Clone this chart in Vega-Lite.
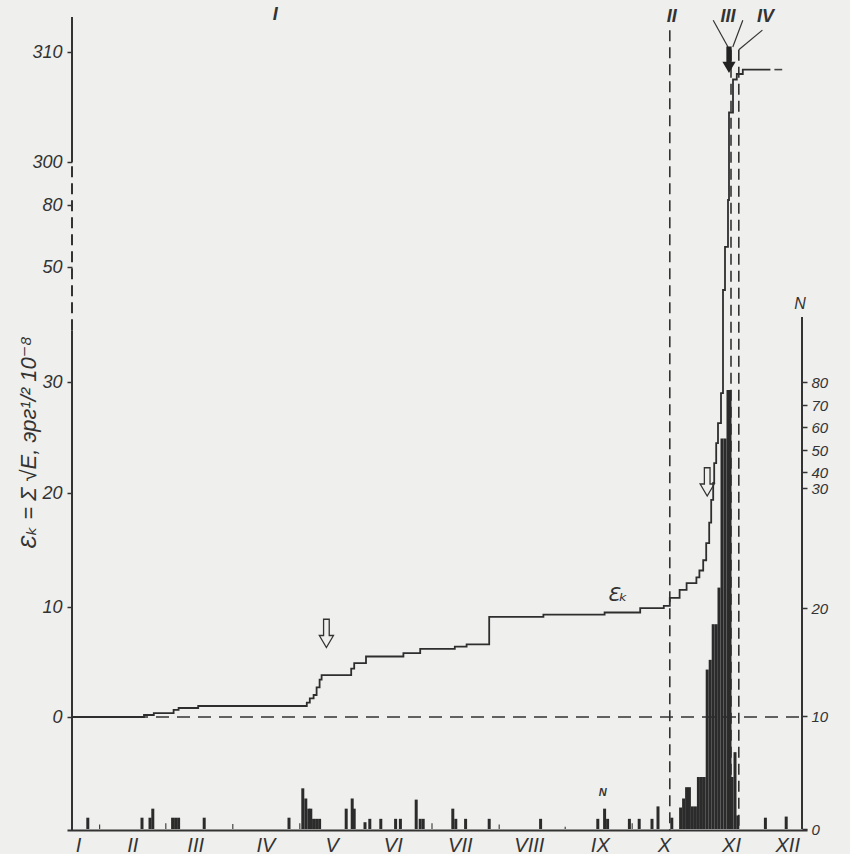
{
 "$schema": "https://vega.github.io/schema/vega-lite/v6.json",
 "width": 740, "height": 813,
 "autosize": {"type": "none"},
 "padding": {"left": 67, "top": 17, "right": 43, "bottom": 24},
 "background": "#efefed",
 "config": {"view": {"stroke": null}, "font": "Liberation Sans Narrow, Liberation Sans, DejaVu Sans, sans-serif"},
 "resolve": {"scale": {"y": "independent"}},
 "layer": [
  {
   "encoding": {
    "x": {"field": "day", "type": "quantitative", "scale": {"domain": [0, 365], "nice": false, "zero": false},
     "axis": {"title": null, "values": [3, 30.1, 61.6, 96.7, 129.8, 160.4, 193.9, 228.4, 263.9, 296, 329.5, 357.6],
      "labelExpr": "['I','II','III','IV','V','VI','VII','VIII','IX','X','XI','XII'][indexof([3, 30.1, 61.6, 96.7, 129.8, 160.4, 193.9, 228.4, 263.9, 296, 329.5, 357.6], datum.value)]",
      "ticks": false, "grid": false, "domainColor": "#333", "domainWidth": 2, "labelFontSize": 20, "labelFontStyle": "italic", "labelPadding": 5, "labelColor": "#333", "labelFlush": false, "labelOverlap": false}},
    "y": {"field": "E", "type": "quantitative",
     "scale": {"domain": [-10.3, 0, 10, 20, 30, 50, 80, 300, 310, 313.2], "range": [813, 700, 590, 476, 365, 250, 188, 145, 35, 0], "nice": false, "zero": false},
     "axis": {"title": "Ɛₖ = Σ √E, эрг¹/² 10⁻⁸", "values": [0, 10, 20, 30, 50, 80, 300, 310], "format": "d", "domain": false, "grid": false,
      "tickSize": -5, "tickWidth": 1.5, "tickColor": "#333", "labelPadding": 10, "labelFontSize": 18, "labelFontStyle": "italic", "labelColor": "#333",
      "labelOverlap": false, "labelFlush": false,
      "titleX": -39, "titleY": 425, "titleAngle": -90, "titleAlign": "center", "titleBaseline": "middle",
      "titleFontSize": 22, "titleFontStyle": "italic", "titleFontWeight": "normal", "titleColor": "#333"}}
   },
   "layer": [
    {"data": {"values": [{"day": 0, "day2": 365, "E": 0}]},
     "mark": {"type": "rule", "strokeDash": [13, 8], "strokeWidth": 1.6, "color": "#333"},
     "encoding": {"x2": {"field": "day2"}}},
    {"data": {"values": [{"lab": "II", "day": 298.9, "E": 312, "e2": -10.3}, {"lab": "III", "day": 329.5, "E": 310.2, "e2": -10.3}, {"lab": "IV", "day": 333.4, "E": 310.2, "e2": -10.3}]},
     "mark": {"type": "rule", "strokeDash": [11, 6], "strokeWidth": 1.6, "color": "#333"},
     "encoding": {"y2": {"field": "e2"}}},
    {"data": {"values": [{"day": 0, "E": -10.3, "e2": 39}, {"day": 0, "E": 300, "e2": 313.2}]},
     "mark": {"type": "rule", "strokeWidth": 2, "color": "#333"},
     "encoding": {"y2": {"field": "e2"}}},
    {"data": {"values": [{"day": 0, "E": 39, "e2": 300}]},
     "mark": {"type": "rule", "strokeDash": [11, 6], "strokeWidth": 2, "color": "#333"},
     "encoding": {"y2": {"field": "e2"}}},
    {"data": {"values": [{"day": 320.6, "day2": 328.0, "E": 312.9, "e2": 310.45}, {"day": 335.4, "day2": 330.4, "E": 312.9, "e2": 310.45}, {"day": 345.2, "day2": 333.4, "E": 312.0, "e2": 310.2}]},
     "mark": {"type": "rule", "strokeWidth": 1.2, "color": "#333"},
     "encoding": {"x2": {"field": "day2"}, "y2": {"field": "e2"}}},
    {"data": {"values": [
      {"day": 0, "E": 0}, {"day": 36.0, "E": 0.18}, {"day": 40.9, "E": 0.36}, {"day": 50.8, "E": 0.64}, {"day": 53.3, "E": 0.82},
      {"day": 63.1, "E": 1.0}, {"day": 117.4, "E": 1.3}, {"day": 118.9, "E": 1.7}, {"day": 120.8, "E": 2.0}, {"day": 122.3, "E": 2.7},
      {"day": 123.8, "E": 3.4}, {"day": 124.8, "E": 3.8}, {"day": 139.6, "E": 4.4}, {"day": 141.1, "E": 4.9}, {"day": 147.0, "E": 5.5},
      {"day": 165.7, "E": 5.8}, {"day": 174.1, "E": 6.2}, {"day": 191.4, "E": 6.4}, {"day": 197.3, "E": 6.6}, {"day": 208.6, "E": 9.1},
      {"day": 235.7, "E": 9.3}, {"day": 266.3, "E": 9.5}, {"day": 284.1, "E": 9.9}, {"day": 295.9, "E": 10.1}, {"day": 298.9, "E": 10.8},
      {"day": 303.8, "E": 11.5}, {"day": 307.3, "E": 12.1}, {"day": 312.2, "E": 12.6}, {"day": 313.7, "E": 13.2}, {"day": 315.6, "E": 14.1},
      {"day": 317.1, "E": 15.6}, {"day": 318.6, "E": 17.4}, {"day": 319.6, "E": 19.4}, {"day": 320.6, "E": 20.9}, {"day": 321.1, "E": 22.7},
      {"day": 322.1, "E": 24.5}, {"day": 323.0, "E": 26.3}, {"day": 324.5, "E": 29.0}, {"day": 325.5, "E": 46}, {"day": 326.5, "E": 59.7},
      {"day": 328.0, "E": 105.6}, {"day": 328.5, "E": 304.5}, {"day": 330.5, "E": 307.5}, {"day": 332.4, "E": 308.0}, {"day": 335.4, "E": 308.4},
      {"day": 349.2, "E": 308.4}]},
     "mark": {"type": "line", "interpolate": "step-after", "strokeWidth": 1.8, "color": "#2e2e2e"},
     "encoding": {}},
    {"data": {"values": [{"day": 351.2, "day2": 355.1, "E": 308.4}]},
     "mark": {"type": "rule", "strokeWidth": 1.6, "color": "#444"},
     "encoding": {"x2": {"field": "day2"}}},
    {"data": {"values": [{"day": 127.2, "E": 7.6}, {"day": 317.6, "E": 21.0}]},
     "mark": {"type": "point", "shape": "M-0.2,-1L0.2,-1L0.2,0.15L0.5,0.15L0,1L-0.5,0.15L-0.2,0.15Z", "size": 800, "filled": false, "stroke": "#333", "strokeWidth": 1.3, "opacity": 1}},
    {"data": {"values": [{"day": 328.5, "E": 309.3}]},
     "mark": {"type": "point", "shape": "M-0.2,-1L0.2,-1L0.2,0.15L0.5,0.15L0,1L-0.5,0.15L-0.2,0.15Z", "size": 700, "filled": true, "fill": "#222", "opacity": 1}},
    {"data": {"values": [{"day": 101.6, "E": 313.4, "t": "I"}, {"day": 299.9, "E": 313.2, "t": "II"}, {"day": 328.0, "E": 313.2, "t": "III"}, {"day": 346.7, "E": 313.2, "t": "IV"}]},
     "mark": {"type": "text", "fontSize": 18, "fontStyle": "italic", "fontWeight": "bold", "color": "#333", "align": "center", "baseline": "middle"},
     "encoding": {"text": {"field": "t"}}},
    {"data": {"values": [{"day": 272.7, "E": 11.05, "t": "Ɛₖ"}]},
     "mark": {"type": "text", "fontSize": 20, "fontStyle": "italic", "color": "#333", "align": "center", "baseline": "middle", "font": "DejaVu Sans"},
     "encoding": {"text": {"field": "t"}}}
   ]
  },
  {
   "encoding": {
    "x": {"field": "day", "type": "quantitative", "scale": {"domain": [0, 365], "nice": false, "zero": false},
     "axis": {"title": null, "values": [3, 30.1, 61.6, 96.7, 129.8, 160.4, 193.9, 228.4, 263.9, 296, 329.5, 357.6],
      "labelExpr": "['I','II','III','IV','V','VI','VII','VIII','IX','X','XI','XII'][indexof([3, 30.1, 61.6, 96.7, 129.8, 160.4, 193.9, 228.4, 263.9, 296, 329.5, 357.6], datum.value)]",
      "ticks": false, "grid": false, "domainColor": "#333", "domainWidth": 2, "labelFontSize": 20, "labelFontStyle": "italic", "labelPadding": 5, "labelColor": "#333", "labelFlush": false, "labelOverlap": false}},
    "y": {"field": "N", "type": "quantitative",
     "scale": {"domain": [0, 10, 20, 30, 40, 50, 60, 70, 80, 108], "range": [812, 699, 591, 471, 455, 433, 410, 388, 365, 300], "nice": false, "zero": false},
     "axis": {"orient": "right", "title": null, "values": [0, 10, 20, 30, 40, 50, 60, 70, 80], "format": "d", "domain": false, "grid": false,
      "tickSize": -5, "tickWidth": 1.5, "tickColor": "#333", "labelPadding": 9, "labelFontSize": 15, "labelFontStyle": "italic", "labelColor": "#333",
      "labelOverlap": false, "labelFlush": false}}
   },
   "layer": [
    {"data": {"values": [
      {"day": 7.9, "N": 1.0}, {"day": 35.0, "N": 1.0}, {"day": 39.0, "N": 1.0}, {"day": 40.4, "N": 1.8}, {"day": 50.3, "N": 1.0},
      {"day": 51.8, "N": 1.0}, {"day": 53.3, "N": 1.0}, {"day": 66.1, "N": 1.0}, {"day": 108.5, "N": 1.0}, {"day": 115.4, "N": 3.6},
      {"day": 116.9, "N": 2.7}, {"day": 118.4, "N": 1.8}, {"day": 119.4, "N": 1.8}, {"day": 120.8, "N": 0.9}, {"day": 122.3, "N": 0.9},
      {"day": 123.8, "N": 0.9}, {"day": 137.1, "N": 1.8}, {"day": 140.1, "N": 2.7}, {"day": 141.1, "N": 1.8}, {"day": 146.5, "N": 0.6},
      {"day": 148.9, "N": 0.9}, {"day": 154.4, "N": 0.9}, {"day": 161.8, "N": 0.9}, {"day": 164.2, "N": 0.9}, {"day": 172.1, "N": 2.6},
      {"day": 174.1, "N": 0.9}, {"day": 175.6, "N": 0.9}, {"day": 190.4, "N": 1.8}, {"day": 191.9, "N": 0.9}, {"day": 196.8, "N": 0.9},
      {"day": 208.6, "N": 0.9}, {"day": 234.3, "N": 0.9}, {"day": 262.9, "N": 0.9}, {"day": 266.3, "N": 1.8}, {"day": 267.8, "N": 0.9},
      {"day": 278.7, "N": 0.9}, {"day": 283.6, "N": 0.9}, {"day": 290.0, "N": 0.9}, {"day": 293.0, "N": 2.0}, {"day": 299.9, "N": 1.0},
      {"day": 304.3, "N": 1.9}, {"day": 305.8, "N": 2.7}, {"day": 307.3, "N": 3.7}, {"day": 308.7, "N": 3.7}, {"day": 310.2, "N": 2.0},
      {"day": 311.7, "N": 2.0}, {"day": 313.2, "N": 4.6}, {"day": 314.7, "N": 4.6}, {"day": 316.1, "N": 4.6}, {"day": 317.6, "N": 14.3},
      {"day": 319.1, "N": 15.2}, {"day": 320.6, "N": 18.5}, {"day": 322.1, "N": 18.5}, {"day": 323.5, "N": 21.7}, {"day": 325.0, "N": 55},
      {"day": 326.5, "N": 55}, {"day": 328.0, "N": 76.5}, {"day": 329.0, "N": 76.5}, {"day": 330.0, "N": 4.6}, {"day": 331.5, "N": 6.8},
      {"day": 332.9, "N": 1.2}, {"day": 346.7, "N": 1.0}, {"day": 357.1, "N": 1.1}]},
     "mark": {"type": "bar", "width": 3, "color": "#2b2b2b"},
     "encoding": {"y2": {"datum": 0}}},
    {"data": {"values": [
      {"day": 13.8, "N": 0.4}, {"day": 46.9, "N": 0.5}, {"day": 80.4, "N": 0.45}, {"day": 113.9, "N": 0.5},
      {"day": 180.0, "N": 0.5}, {"day": 213.6, "N": 0.4}, {"day": 246.6, "N": 0.2}, {"day": 280.1, "N": 0.5}]},
     "mark": {"type": "bar", "width": 1.2, "color": "#444"},
     "encoding": {"y2": {"datum": 0}}},
    {"data": {"values": [{"day": 365, "N": 0, "n2": 108}]},
     "mark": {"type": "rule", "strokeWidth": 2, "color": "#333"},
     "encoding": {"y2": {"field": "n2"}}},
    {"data": {"values": [{"day": 364, "N": 113.5, "t": "N"}]},
     "mark": {"type": "text", "fontSize": 16, "fontStyle": "italic", "color": "#333", "align": "center", "baseline": "middle"},
     "encoding": {"text": {"field": "t"}}},
    {"data": {"values": [{"day": 265.3, "N": 3.2, "t": "N"}]},
     "mark": {"type": "text", "fontSize": 11, "fontStyle": "italic", "fontWeight": "bold", "color": "#333", "align": "center", "baseline": "middle"},
     "encoding": {"text": {"field": "t"}}}
   ]
  }
 ]
}
